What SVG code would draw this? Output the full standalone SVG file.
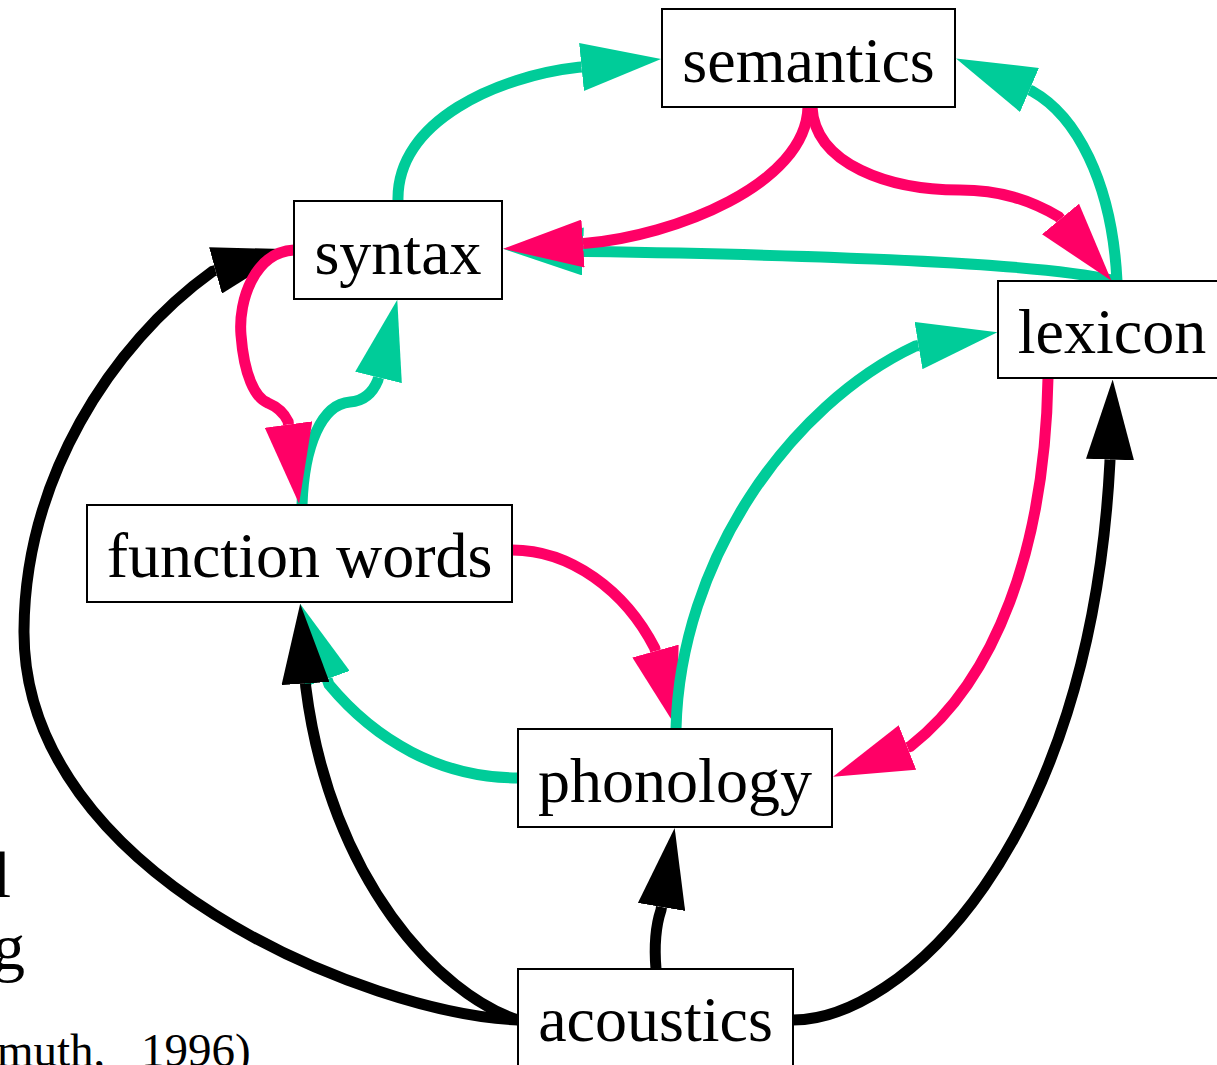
<svg xmlns="http://www.w3.org/2000/svg" width="1217" height="1065" viewBox="0 0 1217 1065">
<style>
.box{fill:#fff;stroke:#000;stroke-width:2}
.lbl{font-family:"Liberation Serif","Times New Roman",serif;font-size:64px;fill:#000;text-anchor:middle}
.frag{font-family:"Liberation Serif","Times New Roman",serif;fill:#000}
.e{fill:none;stroke-width:11;stroke-linecap:butt}
.teal{stroke:#00cc99;marker-end:url(#aT)}
.red{stroke:#ff0066;marker-end:url(#aR)}
.blk{stroke:#000;marker-end:url(#aK)}
</style>
<defs>
<marker id="aT" markerUnits="userSpaceOnUse" viewBox="0 0 80 48" refX="0" refY="24" markerWidth="80" markerHeight="48" orient="auto"><path d="M0,0 L80,24 L0,48 Z" fill="#00cc99"/></marker>
<marker id="aR" markerUnits="userSpaceOnUse" viewBox="0 0 80 48" refX="0" refY="24" markerWidth="80" markerHeight="48" orient="auto"><path d="M0,0 L80,24 L0,48 Z" fill="#ff0066"/></marker>
<marker id="aK" markerUnits="userSpaceOnUse" viewBox="0 0 80 48" refX="0" refY="24" markerWidth="80" markerHeight="48" orient="auto"><path d="M0,0 L80,24 L0,48 Z" fill="#000"/></marker>
</defs>
<rect x="0" y="0" width="1217" height="1065" fill="#fff"/>
<g id="background-text">
<text class="frag" x="11" y="897" font-size="66" text-anchor="end">l</text>
<text class="frag" x="25" y="969" font-size="66" text-anchor="end">g</text>
<text class="frag" x="-3" y="1066" font-size="47" word-spacing="24">muth, 1996)</text>
</g>
<g id="connectors">
<path class="e blk" d="M518,1020 C370,1014 22,875 24,630 C25,480 110,345 212.6,271.3 L215.5,270.5"/>
<path class="e teal" d="M302,505 C304,445 322,404 350,402 C365,401 373,392 377.8,380.4 L378.5,377.5"/>
<path class="e red" d="M294,250 C255,252 238,300 241,335 C244,375 255,398 268,403 C280,408 285,415 288.1,421.5 L288.5,424.5"/>
<path class="e teal" d="M1112,280 C1050,266 900,256 586,251.6 L583,251.5"/>
<path class="e red" d="M808,107 C806,185 673,236 586,243.3 L583,243.5"/>
<path class="e teal" d="M1117,281 C1112,180 1075,115 1032.3,91.2 L1029.5,90"/>
<path class="e red" d="M812,107 C815,165 890,190 960,190 C1000,190 1030,200 1058.6,216.7 L1060.5,219"/>
<path class="e teal" d="M398,201 C396,120 500,76 578.5,67.3 L581.5,67"/>
<path class="e teal" d="M518,778 C440,778 375,740 329,684.6 L327,679"/>
<path class="e blk" d="M518,1020 C440,995 330,880 305.7,686.5 L305.5,683.5"/>
<path class="e red" d="M512,550 C570,550 625,590 654.7,648.1 L655.5,651"/>
<path class="e teal" d="M676,729 C680,560 790,405 915.5,346 L918.5,345.5"/>
<path class="e red" d="M1048,378 C1045,550 995,680 910.3,746.4 L907.5,747.5"/>
<path class="e blk" d="M656,969 C654,945 656,925 661,910 L661.5,907"/>
<path class="e blk" d="M793,1020 C900,1020 1090,850 1109.9,462.5 L1110,459.5"/>
</g>
<g id="node-semantics"><rect class="box" x="662" y="9" width="293" height="98"/><text class="lbl" x="808.5" y="81.5">semantics</text></g>
<g id="node-syntax"><rect class="box" x="294" y="201" width="208" height="98"/><text class="lbl" x="398" y="273.5">syntax</text></g>
<g id="node-lexicon"><rect class="box" x="998" y="281" width="230" height="97"/><text class="lbl" x="1112" y="353">lexicon</text></g>
<g id="node-function-words"><rect class="box" x="87" y="505" width="425" height="97"/><text class="lbl" x="299.5" y="577">function words</text></g>
<g id="node-phonology"><rect class="box" x="518" y="729" width="314" height="98"/><text class="lbl" x="675" y="801.5">phonology</text></g>
<g id="node-acoustics"><rect class="box" x="518" y="969" width="275" height="110"/><text class="lbl" x="655.5" y="1041">acoustics</text></g>
</svg>
